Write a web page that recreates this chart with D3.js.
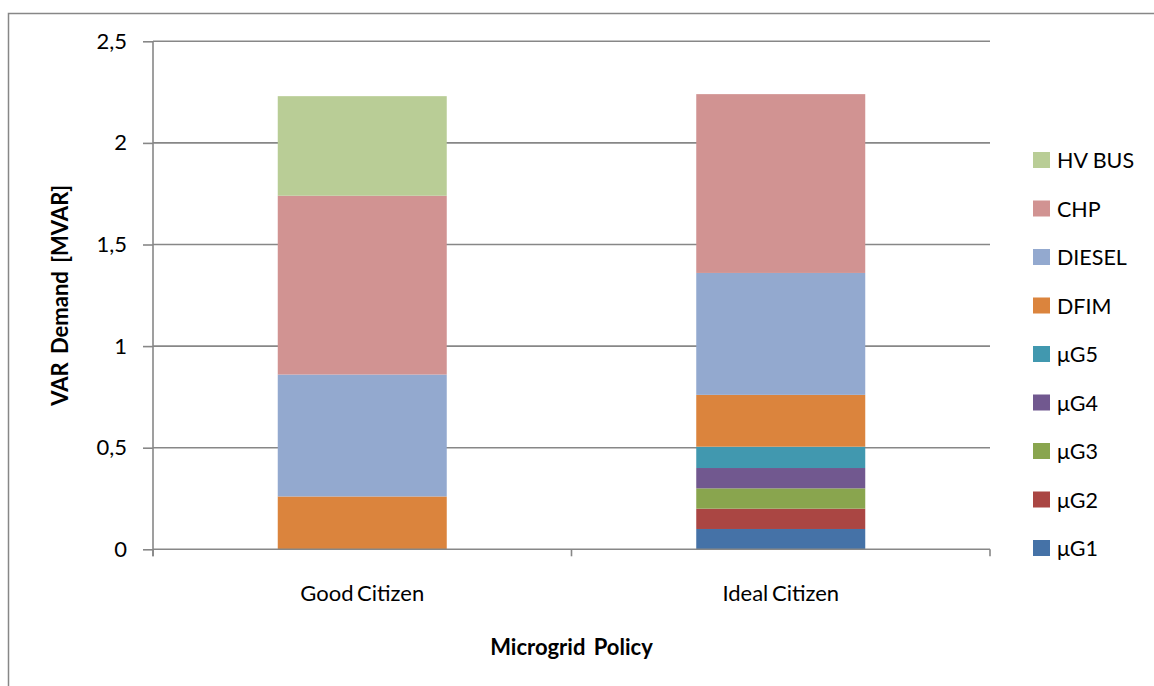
<!DOCTYPE html>
<html>
<head>
<meta charset="utf-8">
<script src="https://cdn.jsdelivr.net/npm/d3@7"></script>
<style>
  html, body { margin: 0; padding: 0; background: #fff; }
  svg { display: block; }
  text { font-family: Lato, "Open Sans", sans-serif; fill: #000; }
</style>
</head>
<body>
<svg id="chart" width="1154" height="686"></svg>
<script>
// Policies on the x axis
const categories = ["Good Citizen", "Ideal Citizen"];
// Reactive power sources, stacked bottom to top
const seriesNames = ["μG1", "μG2", "μG3", "μG4", "μG5", "DFIM", "DIESEL", "CHP", "HV BUS"];
const seriesColors = ["#4572A7", "#AA4643", "#89A54E", "#71588F", "#4198AF", "#DB843D", "#93A9CF", "#D19392", "#B9CD96"];
// VAR demand in MVAR per source, one value per policy
const muG1 = [0, 0.10];
const muG2 = [0, 0.10];
const muG3 = [0, 0.10];
const muG4 = [0, 0.10];
const muG5 = [0, 0.105];
const dfim = [0.26, 0.255];
const diesel = [0.60, 0.60];
const chp = [0.88, 0.88];
const hvBus = [0.49, 0];
const yTicks = [0, 0.5, 1, 1.5, 2, 2.5];

const seriesValues = [muG1, muG2, muG3, muG4, muG5, dfim, diesel, chp, hvBus];
const rows = categories.map((c, i) => {
  const r = { policy: c };
  seriesNames.forEach((n, k) => { r[n] = seriesValues[k][i]; });
  return r;
});

const svg = d3.select("#chart");
const plot = { left: 153, right: 990, top: 41.3, bottom: 549.3 };
const axisColor = "#878787";
const fontSize = 22;

// Outer chart frame
svg.append("rect")
  .attr("x", 8.5).attr("y", 13.5)
  .attr("width", 1200).attr("height", 800)
  .attr("fill", "none").attr("stroke", axisColor).attr("stroke-width", 1.5);

const x = d3.scaleBand().domain(categories).range([plot.left, plot.right]).paddingInner(0).paddingOuter(0);
const y = d3.scaleLinear().domain([0, 2.5]).range([plot.bottom, plot.top]);
const barWidth = 169;

const locale = d3.formatLocale({ decimal: ",", thousands: ".", grouping: [3], currency: ["", "€"] });
const fmt = v => locale.format("~g")(v);

// Horizontal gridlines
svg.append("g").selectAll("line").data(yTicks.slice(1)).join("line")
  .attr("x1", plot.left).attr("x2", plot.right)
  .attr("y1", d => y(d)).attr("y2", d => y(d))
  .attr("stroke", axisColor).attr("stroke-width", 1.6);

// Stacked bars
const stack = d3.stack().keys(seriesNames)(rows);
const color = d3.scaleOrdinal().domain(seriesNames).range(seriesColors);
svg.append("g").selectAll("g").data(stack).join("g")
  .attr("fill", d => color(d.key))
  .selectAll("rect").data(d => d.filter(p => p[1] - p[0] > 0)).join("rect")
  .attr("x", d => x(d.data.policy) + x.bandwidth() / 2 - barWidth / 2)
  .attr("width", barWidth)
  .attr("y", d => y(d[1]))
  .attr("height", d => y(d[0]) - y(d[1]));

// Y axis
const yAxis = svg.append("g").attr("transform", `translate(${plot.left},0)`)
  .call(d3.axisLeft(y).tickValues(yTicks).tickFormat(fmt).tickSize(10).tickPadding(16));
yAxis.select(".domain").remove();
yAxis.selectAll(".tick line").attr("stroke", axisColor).attr("stroke-width", 1.6);
yAxis.selectAll(".tick text").attr("font-size", fontSize).attr("fill", "#000").attr("font-family", "Lato, sans-serif");
svg.append("line")
  .attr("x1", plot.left).attr("x2", plot.left)
  .attr("y1", plot.top).attr("y2", plot.bottom + 7)
  .attr("stroke", axisColor).attr("stroke-width", 1.6);

// X axis
const xAxisG = svg.append("g").attr("transform", `translate(0,${plot.bottom})`);
xAxisG.append("line")
  .attr("x1", plot.left).attr("x2", plot.right)
  .attr("stroke", axisColor).attr("stroke-width", 1.6);
const boundaries = [plot.left, ...categories.map(c => x(c) + x.bandwidth())];
xAxisG.selectAll("line.b").data(boundaries).join("line").attr("class", "b")
  .attr("x1", d => d).attr("x2", d => d).attr("y1", 0).attr("y2", 7)
  .attr("stroke", axisColor).attr("stroke-width", 1.6);
xAxisG.selectAll("text").data(categories).join("text")
  .attr("x", d => x(d) + x.bandwidth() / 2)
  .attr("y", 52)
  .attr("text-anchor", "middle")
  .attr("font-size", fontSize)
  .attr("word-spacing", -2)
  .text(d => d);

// Axis titles
svg.append("text")
  .attr("x", (plot.left + plot.right) / 2).attr("y", 655)
  .attr("text-anchor", "middle").attr("font-size", fontSize).attr("font-weight", "bold")
  .attr("word-spacing", 3)
  .text("Microgrid Policy");
svg.append("text")
  .attr("transform", `translate(68,${(plot.top + plot.bottom) / 2}) rotate(-90)`)
  .attr("text-anchor", "middle").attr("font-size", fontSize).attr("font-weight", "bold")
  .attr("word-spacing", 3)
  .text("VAR Demand [MVAR]");

// Legend, top entry is the top of the stack
const legendItems = seriesNames.slice().reverse();
const legend = svg.append("g").attr("transform", "translate(1033,152)");
const rowH = 48.5;
legend.selectAll("rect").data(legendItems).join("rect")
  .attr("x", 0).attr("y", (d, i) => i * rowH)
  .attr("width", 17).attr("height", 16)
  .attr("fill", d => color(d));
legend.selectAll("text").data(legendItems).join("text")
  .attr("x", 24).attr("y", (d, i) => i * rowH + 16)
  .attr("font-size", fontSize - 0.5)
  .text(d => d);
</script>
</body>
</html>
